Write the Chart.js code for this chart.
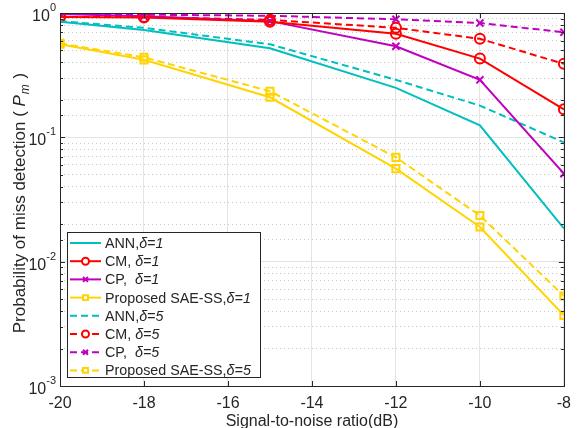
<!DOCTYPE html>
<html>
<head>
<meta charset="utf-8">
<script src="https://cdn.jsdelivr.net/npm/chart.js@4.4.1/dist/chart.umd.min.js"></script>
<style>
  html, body { margin: 0; padding: 0; background: #fff; }
  #wrap { width: 579px; height: 428px; position: relative; }
</style>
</head>
<body>
<div id="wrap"><canvas id="chart" width="579" height="428"></canvas></div>
<script>
// SNR points (dB)
const snr = [-20, -18, -15, -12, -10, -8];

// delta = 1
const annD1 = [0.85, 0.73, 0.52, 0.25, 0.125, 0.0185];
const cmD1  = [0.93, 0.92, 0.85, 0.68, 0.43, 0.168];
const cpD1  = [0.98, 0.94, 0.86, 0.54, 0.29, 0.051];
const saeD1 = [0.56, 0.42, 0.21, 0.056, 0.019, 0.0037];

// delta = 5
const annD5 = [0.86, 0.76, 0.56, 0.29, 0.18, 0.091];
const cmD5  = [0.93, 0.93, 0.88, 0.76, 0.62, 0.39];
const cpD5  = [0.99, 0.97, 0.95, 0.89, 0.83, 0.70];
const saeD5 = [0.57, 0.44, 0.235, 0.069, 0.0235, 0.0053];

const xTicks = [-20, -18, -16, -14, -12, -10, -8];
const yDecades = [1, 0.1, 0.01, 0.001];

const names = ['ANN,', 'CM, ', 'CP,  ', 'Proposed SAE-SS,'];
const deltas = ['\u03B4=1', '\u03B4=5'];

const CYAN = '#00bfbf', RED = '#ff0000', MAG = '#bf00bf', GOLD = '#ffd400';
const FONT = '"Liberation Sans", Arial, Helvetica, sans-serif';
const AXC = '#262626';

function series(label, data, color, style, dashed) {
  return {
    label: label,
    data: snr.map((x, i) => ({ x: x, y: data[i] })),
    borderColor: color,
    backgroundColor: 'transparent',
    borderWidth: 2,
    borderDash: dashed ? [7, 4] : [],
    pointStyle: style,
    pointRadius: style === false ? 0 : 5,
    pointBorderWidth: 2,
    pointBorderColor: color,
    pointBackgroundColor: 'transparent',
    tension: 0
  };
}

const datasets = [
  series(names[0] + deltas[0], annD1, CYAN, false, false),
  series(names[1] + deltas[0], cmD1, RED, 'circle', false),
  series(names[2] + deltas[0], cpD1, MAG, 'crossRot', false),
  series(names[3] + deltas[0], saeD1, GOLD, 'rect', false),
  series(names[0] + deltas[1], annD5, CYAN, false, true),
  series(names[1] + deltas[1], cmD5, RED, 'circle', true),
  series(names[2] + deltas[1], cpD5, MAG, 'crossRot', true),
  series(names[3] + deltas[1], saeD5, GOLD, 'rect', true)
];
// legend text parts
const legendParts = [0, 1, 2, 3, 4, 5, 6, 7].map(i => [names[i % 4], deltas[i < 4 ? 0 : 1]]);

const isMajor = v => Math.abs(Math.log10(v) - Math.round(Math.log10(v))) < 1e-6;

const decorations = {
  id: 'decorations',
  afterDraw(chart) {
    const ctx = chart.ctx;
    const a = chart.chartArea;
    const ys = chart.scales.y, xs = chart.scales.x;
    ctx.save();

    // tick marks (inward, all sides)
    ctx.strokeStyle = AXC;
    ctx.lineWidth = 1;
    ctx.beginPath();
    ys.ticks.forEach(t => {
      const py = Math.round(ys.getPixelForValue(t.value)) + 0.5;
      const len = isMajor(t.value) ? 5 : 3;
      ctx.moveTo(a.left, py); ctx.lineTo(a.left + len, py);
      ctx.moveTo(a.right, py); ctx.lineTo(a.right - len, py);
    });
    xTicks.forEach(v => {
      const px = Math.round(xs.getPixelForValue(v)) + 0.5;
      ctx.moveTo(px, a.bottom); ctx.lineTo(px, a.bottom - 5);
      ctx.moveTo(px, a.top); ctx.lineTo(px, a.top + 5);
    });
    ctx.stroke();

    // box
    ctx.strokeRect(Math.round(a.left) + 0.5, Math.round(a.top) + 0.5,
      Math.round(a.right - a.left), Math.round(a.bottom - a.top));

    // y tick labels 10^n
    ctx.fillStyle = AXC;
    yDecades.forEach(v => {
      const py = ys.getPixelForValue(v);
      const exp = String(Math.round(Math.log10(v)));
      ctx.font = '11px ' + FONT;
      const ew = ctx.measureText(exp).width;
      ctx.textAlign = 'left';
      ctx.textBaseline = 'alphabetic';
      const right = 56;
      ctx.fillText(exp, right - ew, py - 2);
      ctx.font = '16px ' + FONT;
      ctx.textAlign = 'right';
      ctx.fillText('10', right - ew, py + 8);
    });

    // y axis title with italic P and subscript m
    ctx.save();
    ctx.translate(25, 203);
    ctx.rotate(-Math.PI / 2);
    const p1 = 'Probability of miss detection ( ', pP = 'P', pm = 'm', p2 = ' )';
    ctx.font = '17px ' + FONT;
    const w1 = ctx.measureText(p1).width;
    const w2 = ctx.measureText(p2).width;
    ctx.font = 'italic 17px ' + FONT;
    const wP = ctx.measureText(pP).width;
    ctx.font = 'italic 12px ' + FONT;
    const wm = ctx.measureText(pm).width;
    let x0 = -(w1 + wP + wm + w2 + 2) / 2;
    ctx.textAlign = 'left';
    ctx.textBaseline = 'alphabetic';
    ctx.font = '17px ' + FONT;
    ctx.fillText(p1, x0, 0); x0 += w1;
    ctx.font = 'italic 17px ' + FONT;
    ctx.fillText(pP, x0, 0); x0 += wP + 1;
    ctx.font = 'italic 12px ' + FONT;
    ctx.fillText(pm, x0, 4); x0 += wm + 1;
    ctx.font = '17px ' + FONT;
    ctx.fillText(p2, x0, 0);
    ctx.restore();

    // legend
    const lx = 67, ly = 232, lw = 193, lh = 145;
    ctx.fillStyle = '#fff';
    ctx.fillRect(lx, ly, lw, lh);
    ctx.strokeStyle = AXC;
    ctx.lineWidth = 1;
    ctx.strokeRect(lx + 0.5, ly + 0.5, lw, lh);
    chart.data.datasets.forEach((ds, i) => {
      const cy = ly + 11 + i * 18.2;
      ctx.save();
      ctx.strokeStyle = ds.borderColor;
      ctx.fillStyle = '#fff';
      ctx.lineWidth = 2;
      ctx.setLineDash(ds.borderDash);
      ctx.beginPath();
      ctx.moveTo(lx + 3, cy); ctx.lineTo(lx + 34, cy);
      ctx.stroke();
      ctx.setLineDash([]);
      if (ds.pointStyle) {
        Chart.helpers.drawPoint(ctx, {
          pointStyle: ds.pointStyle, radius: 3.5, borderWidth: 2, rotation: 0
        }, lx + 18.5, cy);
      }
      ctx.restore();
      const [n, d] = legendParts[i];
      ctx.fillStyle = AXC;
      ctx.textAlign = 'left';
      ctx.textBaseline = 'middle';
      ctx.font = '14.3px ' + FONT;
      ctx.fillText(n, lx + 38, cy + 1);
      const nw = ctx.measureText(n).width;
      ctx.font = 'italic 14.3px ' + FONT;
      ctx.fillText(d, lx + 38 + nw, cy + 1);
    });
    ctx.restore();
  }
};

new Chart(document.getElementById('chart'), {
  type: 'line',
  data: { datasets: datasets },
  options: {
    responsive: false,
    animation: false,
    layout: { padding: { top: 13, right: 6, left: 0, bottom: 0 } },
    plugins: { legend: { display: false }, tooltip: { enabled: false } },
    scales: {
      x: {
        type: 'linear',
        min: -20, max: -8,
        afterBuildTicks: s => { s.ticks = xTicks.map(v => ({ value: v })); },
        afterFit: s => { s.height = 42; },
        border: { display: false },
        grid: { color: '#e3e3e3', lineWidth: 1, drawTicks: false },
        ticks: { color: AXC, font: { family: FONT, size: 16 }, padding: 8, maxRotation: 0 },
        title: { display: true, text: 'Signal-to-noise ratio(dB)', color: AXC,
                 font: { family: FONT, size: 16 }, padding: { top: -3, bottom: -3 } }
      },
      y: {
        type: 'logarithmic',
        min: 0.001, max: 1,
        afterFit: s => { s.width = 60; },
        border: { display: false },
        grid: { color: c => isMajor(c.tick.value) ? '#e3e3e3' : 'transparent', drawTicks: false },
        ticks: { display: false, autoSkip: false }
      },
      y2: {
        type: 'logarithmic',
        position: 'left',
        min: 0.001, max: 1,
        afterFit: s => { s.width = 0; },
        border: { display: false, dash: [1, 3] },
        grid: { color: c => isMajor(c.tick.value) ? 'transparent' : '#c8c8c8', drawTicks: false },
        ticks: { display: false, autoSkip: false }
      }
    }
  },
  plugins: [decorations]
});
</script>
</body>
</html>
